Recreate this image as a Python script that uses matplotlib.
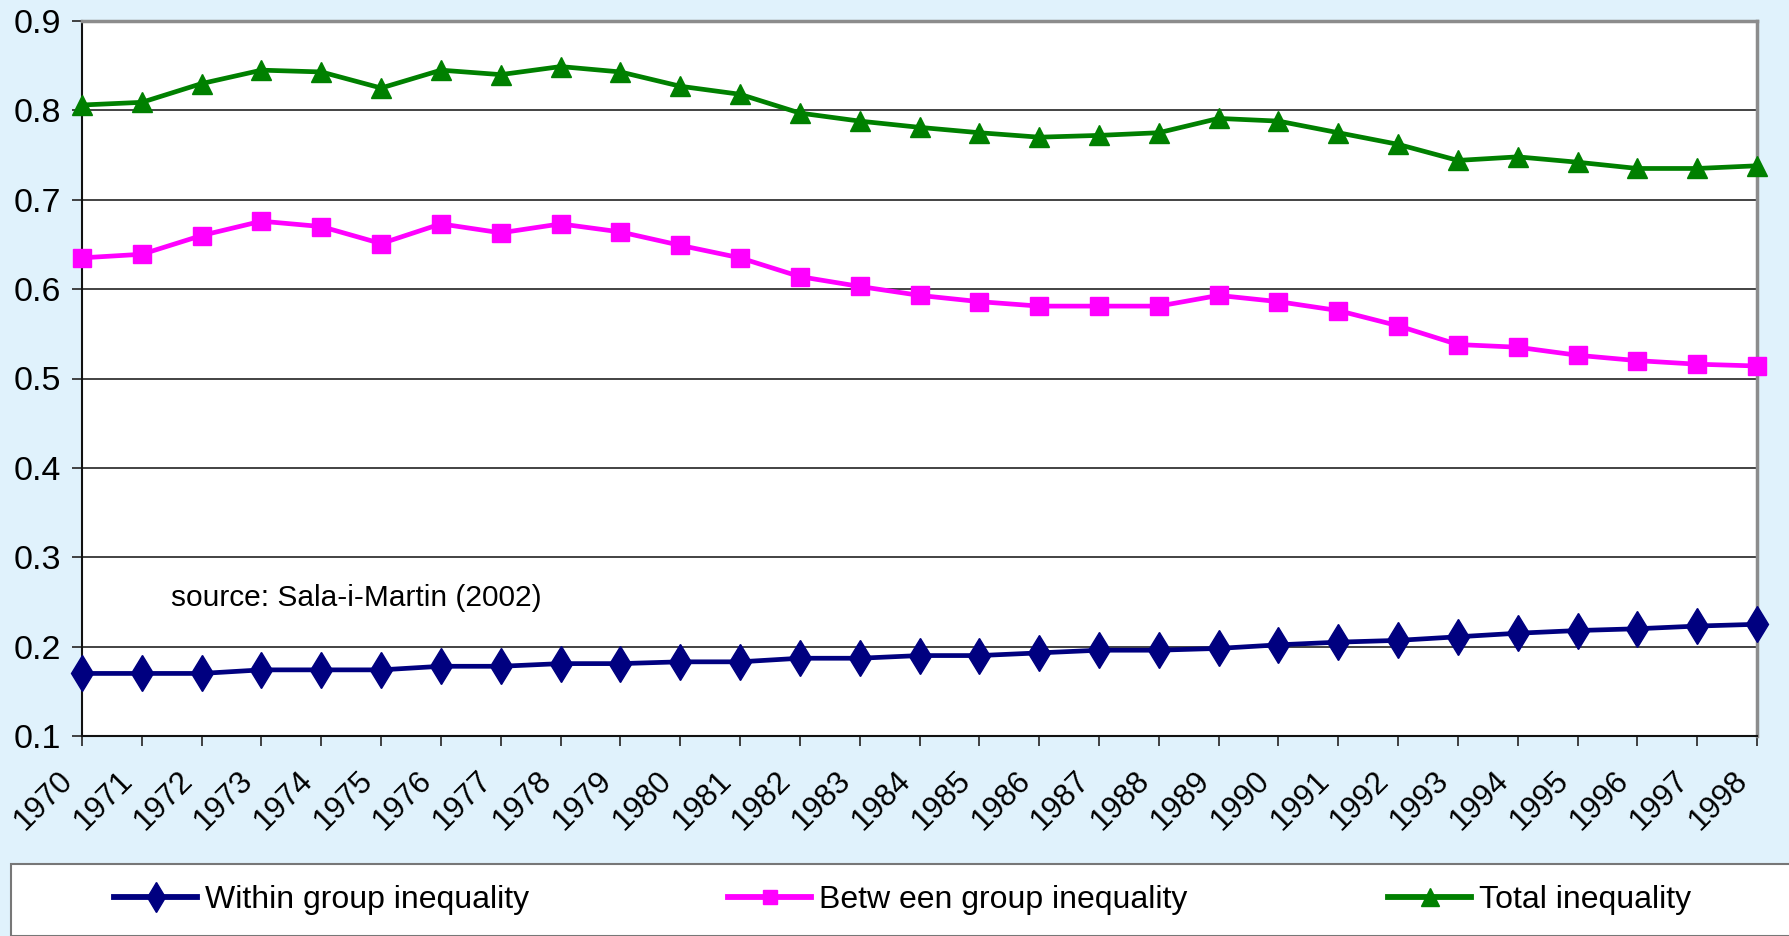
import matplotlib
matplotlib.use("Agg")
import matplotlib.pyplot as plt
from matplotlib.patches import Rectangle
from matplotlib.lines import Line2D
from matplotlib.transforms import ScaledTranslation

plt.rcParams['font.family'] = ['Liberation Sans', 'DejaVu Sans']

years = list(range(1970, 1999))
within = [0.170, 0.170, 0.170, 0.174, 0.174, 0.174, 0.178, 0.178, 0.181, 0.181,
          0.183, 0.183, 0.187, 0.187, 0.190, 0.190, 0.193, 0.196, 0.196, 0.198,
          0.202, 0.205, 0.207, 0.211, 0.215, 0.218, 0.220, 0.223, 0.225]
between = [0.635, 0.639, 0.660, 0.676, 0.670, 0.651, 0.673, 0.663, 0.673, 0.664,
           0.649, 0.635, 0.614, 0.603, 0.593, 0.586, 0.581, 0.581, 0.581, 0.593,
           0.586, 0.576, 0.559, 0.538, 0.535, 0.526, 0.520, 0.516, 0.514]
total = [0.806, 0.809, 0.830, 0.845, 0.843, 0.825, 0.845, 0.840, 0.849, 0.843,
         0.827, 0.818, 0.797, 0.788, 0.781, 0.775, 0.770, 0.772, 0.775, 0.791,
         0.788, 0.775, 0.762, 0.744, 0.748, 0.742, 0.735, 0.735, 0.738]
labels = ["Within group inequality", "Betw een group inequality", "Total inequality"]
yticks = [0.1, 0.2, 0.3, 0.4, 0.5, 0.6, 0.7, 0.8, 0.9]

W, H = 1789, 936
fig = plt.figure(figsize=(W / 100, H / 100), dpi=100)
fig.patch.set_facecolor('#E0F2FC')

ax = fig.add_axes([82 / W, 1 - 736 / H, (1757 - 82) / W, (736 - 21) / H])
ax.set_facecolor('white')

styles = [
    dict(color='#000080', marker='d', markersize=18),
    dict(color='#FF00FF', marker='s', markersize=12.5),
    dict(color='#008000', marker='^', markersize=15),
]
series = [within, between, total]
for vals, st, lab in zip(series, styles, labels):
    ax.plot(years, vals, lw=3.4, clip_on=False, zorder=3, label=lab, **st)

ax.set_xlim(1970, 1998)
ax.set_ylim(0.1, 0.9)
ax.set_yticks(yticks)
ax.set_yticklabels([f"{v:.1f}" for v in yticks], fontsize=24.5)
ax.set_xticks(years)
ax.set_xticklabels([str(y) for y in years], fontsize=22.5, rotation=45,
                   ha='right', va='top', rotation_mode='anchor')
ax.grid(axis='y', color='#222222', lw=1.2)
ax.set_axisbelow(True)

ax.tick_params(axis='x', direction='out', length=7, width=1.3, color='#333333', pad=14.5)
ax.tick_params(axis='y', direction='out', length=7, width=1.3, color='#333333', pad=8)
off = ScaledTranslation(-24 / 100, 0, fig.dpi_scale_trans)
for lbl in ax.get_xticklabels():
    lbl.set_transform(lbl.get_transform() + off)

for s in ['left', 'bottom']:
    ax.spines[s].set_color('#111111')
    ax.spines[s].set_linewidth(1.5)
for s in ['top', 'right']:
    ax.spines[s].set_color('#8c8c8c')
    ax.spines[s].set_linewidth(2.5)

ax.text(171 / W, 1 - 598 / H, "source: Sala-i-Martin (2002)", transform=fig.transFigure,
        fontsize=21.5, va='center', ha='left')

# legend box
fig.patches.append(Rectangle((11 / W, 0), 1.0, 72 / H, transform=fig.transFigure,
                             facecolor='white', edgecolor='#777777', lw=1.5, zorder=0))
lines = ax.get_lines()
xpos = [114, 728, 1388]
for ln, lab, xp in zip(lines, labels, xpos):
    h = Line2D([], [], color=ln.get_color(), marker=ln.get_marker(),
               markersize=ln.get_markersize() * 0.85, lw=4.2)
    fig.legend([h], [lab], loc='center left', bbox_to_anchor=(xp / W, 36 / H),
               frameon=False, fontsize=23, handlelength=2.6, handletextpad=0.25,
               borderpad=0, borderaxespad=0)

fig.savefig("out.png", dpi=100, facecolor=fig.get_facecolor())
